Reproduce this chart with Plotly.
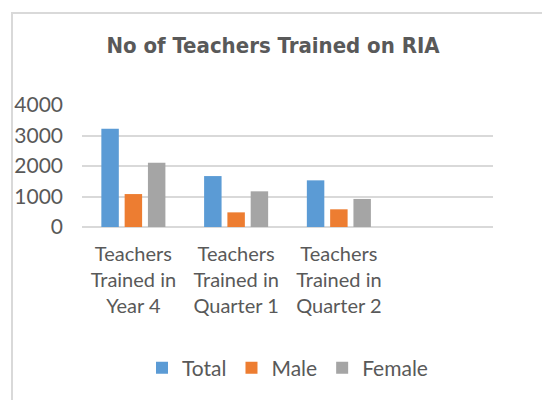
import plotly.graph_objects as go

categories = ["Teachers<br>Trained in<br>Year 4", "Teachers<br>Trained in<br>Quarter 1", "Teachers<br>Trained in<br>Quarter 2"]
total = [3220, 1670, 1530]
male = [1080, 480, 580]
female = [2110, 1170, 920]
y_ticks = [0, 1000, 2000, 3000, 4000]

FONT = "Lato, 'Noto Sans', sans-serif"
TXT = "#595959"
W, H = 550, 400
OFF = 8  # page body margin offset
# plot area in screen pixels
X0, X1, Y0, Y1 = 82, 493, 105, 227
L, R, T, B = X0 - OFF, W - (X1 - OFF), Y0 - OFF, H - (Y1 - OFF)

fig = go.Figure()
for name, vals, col in [("Total", total, "#5B9BD5"), ("Male", male, "#ED7D31"), ("Female", female, "#A5A5A5")]:
    fig.add_trace(go.Bar(name=name, x=categories, y=vals, marker=dict(color=col, line=dict(width=0))))

pw, ph = X1 - X0, Y1 - Y0
def px(x):
    return (x - X0) / pw
def py(y):
    return (Y1 - y) / ph

fig.add_shape(type="line", xref="paper", yref="paper", x0=px(12), x1=px(12), y0=py(12), y1=py(420), line=dict(color="#d9d9d9", width=2))
fig.add_shape(type="line", xref="paper", yref="paper", x0=px(11), x1=px(570), y0=py(13), y1=py(13), line=dict(color="#d9d9d9", width=2))

fig.update_layout(
    width=W, height=H,
    margin=dict(l=L, r=R, t=T, b=B, autoexpand=False),
    paper_bgcolor="white", plot_bgcolor="white",
    barmode="group", bargap=0.32, bargroupgap=0.25,
    title=dict(text="<b>No of Teachers Trained on RIA</b>", x=(273 - OFF) / W, xanchor="center", y=1 - (45 - OFF) / H, yanchor="middle",
               font=dict(family="'Liberation Sans Narrow', 'DejaVu Sans Condensed', sans-serif", size=22, color=TXT)),
    font=dict(family=FONT, size=20, color=TXT),
    xaxis=dict(type="category", range=[-0.5, 3.5], showgrid=False, showline=False, ticks="", automargin=False,
               tickfont=dict(family=FONT, size=20, color=TXT), ticklabelstandoff=13),
    yaxis=dict(range=[0, 4000], tickvals=y_ticks, showgrid=True, gridcolor="#d9d9d9", gridwidth=1.5, automargin=False,
               zeroline=True, zerolinecolor="#d9d9d9", zerolinewidth=1.5, showline=False, ticks="",
               tickfont=dict(family=FONT, size=21, color=TXT), ticklabelstandoff=18),
    legend=dict(orientation="h", x=0.5, xanchor="center", yref="container", y=1 - (368 - OFF) / H, yanchor="middle",
                font=dict(family=FONT, size=21, color=TXT), itemwidth=30),
    showlegend=True,
)

fig.write_html("out.html")
